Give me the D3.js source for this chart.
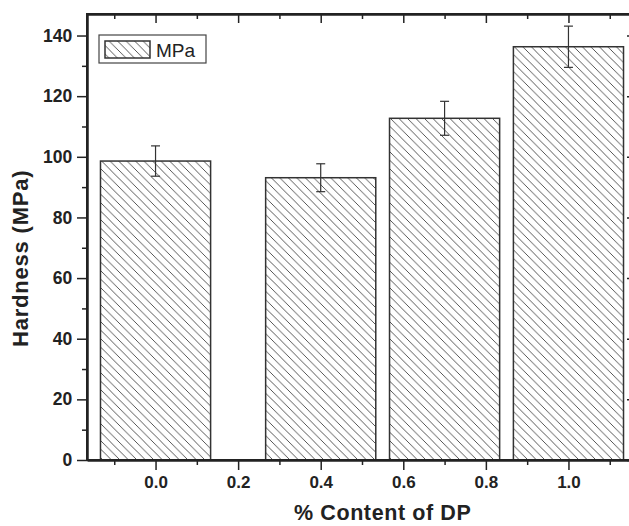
<!DOCTYPE html>
<html>
<head>
<meta charset="utf-8">
<script src="https://cdn.jsdelivr.net/npm/d3@7"></script>
<style>
  body { margin: 0; background: #fff; }
  svg { display: block; font-family: 'Liberation Sans', Arial, sans-serif; }
</style>
</head>
<body>
<div id="chart"></div>
<script>
// data
const contents = [0.0, 0.4, 0.7, 1.0]
const hardness = [98.6, 93.1, 112.7, 136.3]
const errors = [5.0, 4.6, 5.6, 6.8]
const barWidth = 0.2667
const xTicks = [0.0, 0.2, 0.4, 0.6, 0.8, 1.0]
const yTicks = [0, 20, 40, 60, 80, 100, 120, 140]

const W = 629
const H = 526
const plot = { left: 87, right: 637, top: 14, bottom: 460 }

const svg = d3
  .select('#chart')
  .append('svg')
  .attr('width', W)
  .attr('height', H)

const x = d3.scaleLinear().domain([-0.166, 1.166]).range([plot.left, plot.right])
const y = d3.scaleLinear().domain([0, 147.1]).range([plot.bottom, plot.top])

// hatch pattern
const defs = svg.append('defs')
const p = 8.5
defs
  .append('pattern')
  .attr('id', 'hatch')
  .attr('patternUnits', 'userSpaceOnUse')
  .attr('width', p)
  .attr('height', p)
  .append('path')
  .attr('d', `M0,0 L${p},${p} M${-p / 2},${p / 2} L${p / 2},${p * 1.5} M${p / 2},${-p / 2} L${p * 1.5},${p / 2}`)
  .attr('stroke', '#444')
  .attr('stroke-width', 0.9)

const datapoints = contents.map((c, i) => ({ c: c, v: hardness[i], e: errors[i] }))

// bars
svg
  .selectAll('.bar')
  .data(datapoints)
  .enter()
  .append('rect')
  .attr('class', 'bar')
  .attr('x', d => x(d.c - barWidth / 2))
  .attr('width', d => x(d.c + barWidth / 2) - x(d.c - barWidth / 2))
  .attr('y', d => y(d.v))
  .attr('height', d => y(0) - y(d.v))
  .attr('fill', 'url(#hatch)')
  .attr('stroke', '#333')
  .attr('stroke-width', 1.5)

// error bars
const err = svg.append('g').attr('stroke', '#333').attr('stroke-width', 1.2)
datapoints.forEach(d => {
  const cx = x(d.c)
  err.append('line').attr('x1', cx).attr('x2', cx).attr('y1', y(d.v + d.e)).attr('y2', y(d.v - d.e))
  err.append('line').attr('x1', cx - 4.5).attr('x2', cx + 4.5).attr('y1', y(d.v + d.e)).attr('y2', y(d.v + d.e))
  err.append('line').attr('x1', cx - 4.5).attr('x2', cx + 4.5).attr('y1', y(d.v - d.e)).attr('y2', y(d.v - d.e))
})

// axes
const minorX = d3.range(-0.1, 1.15, 0.2)
const minorY = d3.range(10, 147, 20)

const xAxis = d3.axisBottom(x).tickValues(xTicks).tickFormat(d3.format('.1f')).tickSize(10).tickSizeOuter(0)
const gx = svg.append('g').attr('transform', `translate(0,${plot.bottom})`).call(xAxis)
gx.selectAll('text')
  .attr('font-size', 17)
  .attr('font-weight', 'bold')
  .attr('fill', '#222')
  .attr('y', 28.3)
  .attr('dy', 0)

svg.append('g').attr('transform', `translate(0,${plot.bottom})`)
  .call(d3.axisBottom(x).tickValues(minorX).tickSize(5).tickFormat('').tickSizeOuter(0))

svg.append('g').attr('transform', `translate(0,${plot.top})`)
  .call(d3.axisBottom(x).tickValues(xTicks).tickSize(9).tickFormat('').tickSizeOuter(0))
svg.append('g').attr('transform', `translate(0,${plot.top})`)
  .call(d3.axisBottom(x).tickValues(minorX).tickSize(5).tickFormat('').tickSizeOuter(0))

const yAxis = d3.axisLeft(y).tickValues(yTicks).tickSize(10).tickSizeOuter(0)
const gy = svg.append('g').attr('transform', `translate(${plot.left},0)`).call(yAxis)
gy.selectAll('text')
  .attr('font-size', 17.5)
  .attr('font-weight', 'bold')
  .attr('fill', '#222')
  .attr('x', -14.7)

svg.append('g').attr('transform', `translate(${plot.left},0)`)
  .call(d3.axisLeft(y).tickValues(minorY).tickSize(5).tickFormat('').tickSizeOuter(0))

svg.append('g').attr('transform', `translate(${plot.right},0)`)
  .call(d3.axisLeft(y).tickValues(yTicks).tickSize(10).tickFormat('').tickSizeOuter(0))
svg.append('g').attr('transform', `translate(${plot.right},0)`)
  .call(d3.axisLeft(y).tickValues(minorY).tickSize(5).tickFormat('').tickSizeOuter(0))

svg.selectAll('.tick line').attr('stroke', '#222').attr('stroke-width', 1.5)
svg.selectAll('.domain').attr('stroke', '#222').attr('stroke-width', 2)

// frame
svg
  .append('rect')
  .attr('x', plot.left)
  .attr('y', plot.top)
  .attr('width', plot.right - plot.left)
  .attr('height', plot.bottom - plot.top)
  .attr('fill', 'none')
  .attr('stroke', '#222')
  .attr('stroke-width', 2)

// legend
const lg = svg.append('g')
lg.append('rect').attr('x', 99).attr('y', 35).attr('width', 107).attr('height', 28)
  .attr('fill', '#fff').attr('stroke', '#444').attr('stroke-width', 1.2)
lg.append('rect').attr('x', 105).attr('y', 41).attr('width', 45).attr('height', 17)
  .attr('fill', 'url(#hatch)').attr('stroke', '#333').attr('stroke-width', 1.5)
lg.append('text').attr('x', 156).attr('y', 56.5).attr('font-size', 19).attr('fill', '#222').text('MPa')

// axis titles
svg
  .append('text')
  .attr('x', 382.7)
  .attr('y', 520)
  .attr('text-anchor', 'middle')
  .attr('font-size', 21.5)
  .attr('font-weight', 'bold')
  .attr('letter-spacing', 0.6)
  .attr('fill', '#222')
  .text('% Content of DP')

svg
  .append('text')
  .attr('transform', 'translate(27.5,258.3) rotate(-90)')
  .attr('text-anchor', 'middle')
  .attr('font-size', 22)
  .attr('font-weight', 'bold')
  .attr('letter-spacing', 0.8)
  .attr('fill', '#222')
  .text('Hardness (MPa)')
</script>
</body>
</html>
